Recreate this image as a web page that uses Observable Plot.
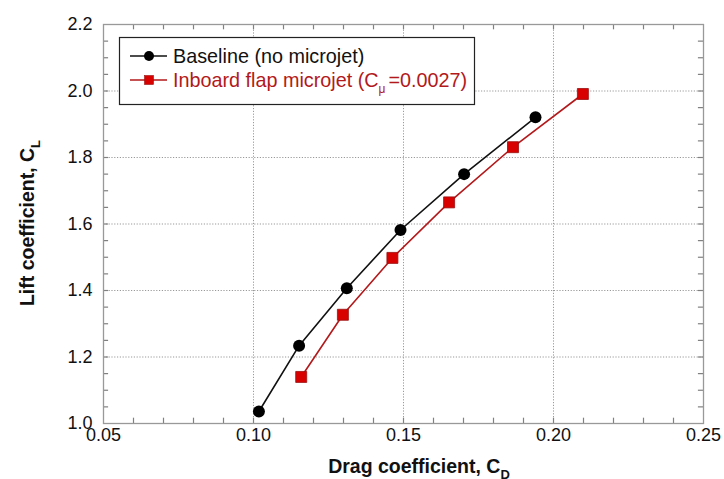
<!DOCTYPE html>
<html>
<head>
<meta charset="utf-8">
<script src="https://cdn.jsdelivr.net/npm/d3@7"></script>
<script src="https://cdn.jsdelivr.net/npm/@observablehq/plot@0.6"></script>
<style>
  body { margin: 0; background: #fff; }
  #chart svg { display: block; }
</style>
</head>
<body>
<div id="chart"></div>
<script>
// Data
const baselineCD = [0.1018, 0.1152, 0.1311, 0.1490, 0.1702, 0.1940];
const baselineCL = [1.036, 1.234, 1.407, 1.582, 1.750, 1.921];
const microjetCD = [0.1159, 0.1298, 0.1463, 0.1652, 0.1865, 0.2098];
const microjetCL = [1.140, 1.327, 1.498, 1.665, 1.831, 1.991];

const seriesNames = ["Baseline (no microjet)", "Inboard flap microjet (C", "=0.0027)"];
const xMajorTicks = [0.05, 0.10, 0.15, 0.20, 0.25];
const yMajorTicks = [1.0, 1.2, 1.4, 1.6, 1.8, 2.0, 2.2];
const xMinorTicks = d3.range(6, 25).map(i => i / 100);
const yMinorTicks = d3.range(21, 44).map(i => i / 20);
const xGrid = [0.10, 0.15, 0.20];
const yGrid = [1.2, 1.4, 1.6, 1.8, 2.0];

const baseline = baselineCD.map((x, i) => ({x, y: baselineCL[i]}));
const microjet = microjetCD.map((x, i) => ({x, y: microjetCL[i]}));

const red = "#b3191b";
const redFill = "#d90000";
const gray = "#999";
const tickGray = "#808080";
const font = "'Liberation Sans', Arial, Helvetica, sans-serif";

const xDomain = [0.05, 0.25];
const yDomain = [1.0, 2.2];
const tx = 0.0017; // inward tick length in x units (~5px)
const ty = 0.016;  // inward tick length in y units (~5px)

const plot = Plot.plot({
  width: 724,
  height: 479,
  marginLeft: 103,
  marginRight: 21,
  marginTop: 24,
  marginBottom: 56,
  style: {fontFamily: font, fontSize: "18px", color: "#111", background: "#fff"},
  x: {domain: xDomain, label: null},
  y: {domain: yDomain, label: null},
  marks: [
    Plot.ruleX(xGrid, {stroke: gray, strokeDasharray: "1.2,1.6", strokeWidth: 1}),
    Plot.ruleY(yGrid, {stroke: gray, strokeDasharray: "1.2,1.6", strokeWidth: 1}),
    // inward ticks on all four sides
    Plot.ruleX(xMinorTicks, {y1: yDomain[0], y2: yDomain[0] + ty, stroke: tickGray, strokeWidth: 1.2}),
    Plot.ruleX(xMinorTicks, {y1: yDomain[1], y2: yDomain[1] - ty, stroke: tickGray, strokeWidth: 1.2}),
    Plot.ruleY(yMinorTicks, {x1: xDomain[0], x2: xDomain[0] + tx, stroke: tickGray, strokeWidth: 1.2}),
    Plot.ruleY(yMinorTicks, {x1: xDomain[1], x2: xDomain[1] - tx, stroke: tickGray, strokeWidth: 1.2}),
    Plot.frame({stroke: gray, strokeWidth: 1.3}),
    Plot.axisX(xMajorTicks, {tickSize: 0, tickPadding: 5, tickFormat: d3.format(".2f"), fontSize: 18}),
    Plot.axisY(yMajorTicks, {tickSize: 0, tickPadding: 11, tickFormat: d3.format(".1f"), fontSize: 18}),
    Plot.line(microjet, {x: "x", y: "y", stroke: red, strokeWidth: 1.6}),
    Plot.line(baseline, {x: "x", y: "y", stroke: "#111", strokeWidth: 1.6}),
    Plot.dot(microjet, {x: "x", y: "y", symbol: "square", r: 6.2, fill: redFill, stroke: "#9a1010", strokeWidth: 0.8}),
    Plot.dot(baseline, {x: "x", y: "y", symbol: "circle", r: 6, fill: "#000", stroke: "none"})
  ]
});

document.getElementById("chart").appendChild(plot);

// Axis titles with subscripts, and legend
const svg = d3.select(plot);

const xt = svg.append("text")
  .attr("x", 419).attr("y", 473)
  .attr("text-anchor", "middle")
  .style("font-family", font).style("font-size", "19.5px").style("font-weight", "bold").attr("fill", "#111");
xt.append("tspan").text("Drag coefficient, C");
xt.append("tspan").attr("dy", 6).style("font-size", "13px").text("D");

const yt = svg.append("text")
  .attr("transform", "translate(34,223) rotate(-90)")
  .attr("text-anchor", "middle")
  .style("font-family", font).style("font-size", "19.5px").style("font-weight", "bold").attr("fill", "#111");
yt.append("tspan").text("Lift coefficient, C");
yt.append("tspan").attr("dy", 6).style("font-size", "13px").text("L");

const lg = svg.append("g").attr("text-anchor", "start");
lg.append("rect").attr("x", 119.5).attr("y", 37.5).attr("width", 355).attr("height", 67)
  .attr("fill", "#fff").attr("stroke", "#222").attr("stroke-width", 1.2);
// row 1
lg.append("line").attr("x1", 130).attr("x2", 167).attr("y1", 56).attr("y2", 56).attr("stroke", "#111").attr("stroke-width", 1.5);
lg.append("circle").attr("cx", 149).attr("cy", 56).attr("r", 5).attr("fill", "#000");
lg.append("text").attr("x", 173).attr("y", 63).attr("text-anchor", "start").style("font-family", font).style("font-size", "19.8px").attr("fill", "#111").text(seriesNames[0]);
// row 2
lg.append("line").attr("x1", 130).attr("x2", 167).attr("y1", 80).attr("y2", 80).attr("stroke", red).attr("stroke-width", 1.5);
lg.append("rect").attr("x", 144.5).attr("y", 75.5).attr("width", 9).attr("height", 9).attr("fill", redFill).attr("stroke", "#9a1010").attr("stroke-width", 0.6);
const t2 = lg.append("text").attr("x", 173).attr("y", 87).attr("text-anchor", "start").style("font-family", font).style("font-size", "19.8px").attr("fill", red);
t2.append("tspan").text(seriesNames[1]);
t2.append("tspan").attr("dy", 6).style("font-size", "12px").text("μ");
t2.append("tspan").attr("dy", -6).attr("dx", 3).text(seriesNames[2]);
</script>
</body>
</html>
